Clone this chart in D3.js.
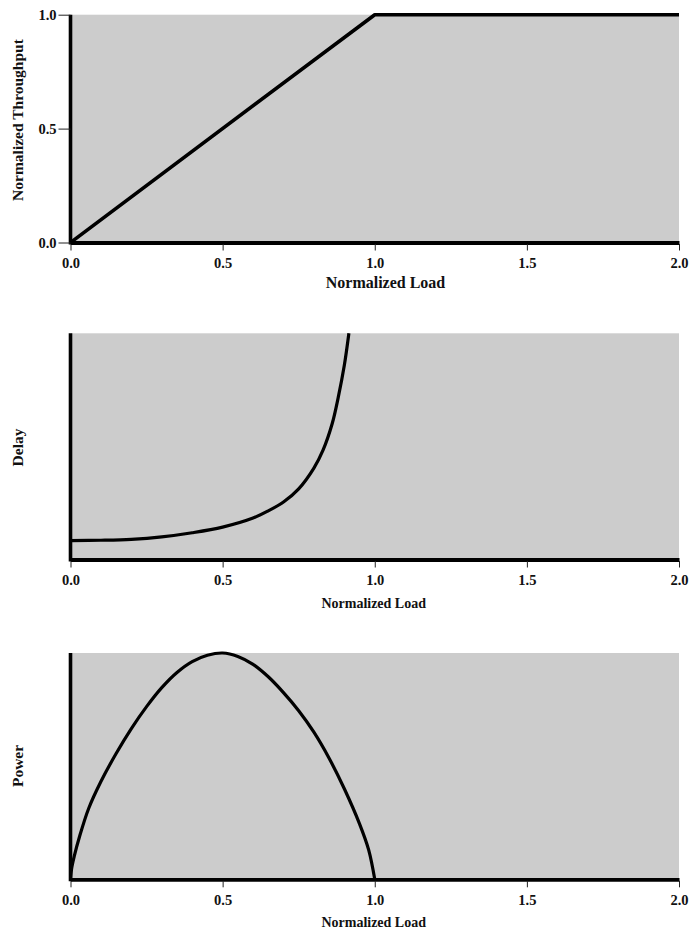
<!DOCTYPE html>
<html>
<head>
<meta charset="utf-8">
<script src="https://cdn.jsdelivr.net/npm/d3@7"></script>
<style>
  html, body { margin: 0; padding: 0; background: #ffffff; }
  svg { display: block; }
  text { font-family: "Liberation Serif", "Times New Roman", serif; font-weight: bold; fill: #111; }
</style>
</head>
<body>
<svg id="chart" width="692" height="934"></svg>
<script>
// ---- data ----
const loadTicks = [0, 0.5, 1.0, 1.5, 2.0];
const throughputTicks = [0, 0.5, 1.0];

const throughputLoad = [0, 1.0, 2.0];
const throughputValues = [0, 1.0, 1.0];

const delayLoad   = [0, 0.1, 0.2, 0.3, 0.4, 0.5, 0.6, 0.65, 0.7, 0.75, 0.8, 0.83, 0.86, 0.88, 0.9, 0.915];
const delayValues = [1.0, 1.02, 1.07, 1.20, 1.42, 1.72, 2.2, 2.58, 3.05, 3.75, 4.85, 5.8, 7.2, 8.6, 10.3, 12.0];

const powerLoad   = [0, 0.004, 0.012, 0.03, 0.06, 0.10, 0.15, 0.2, 0.25, 0.3, 0.35, 0.4, 0.45, 0.5,
                     0.55, 0.6, 0.65, 0.7, 0.75, 0.8, 0.85, 0.9, 0.95, 0.98, 1.0];
const powerValues = [0, 0.05, 0.10, 0.19, 0.314, 0.432, 0.556, 0.666, 0.763, 0.847, 0.914, 0.962, 0.99, 1.0,
                     0.985, 0.95, 0.895, 0.825, 0.745, 0.65, 0.535, 0.40, 0.245, 0.13, 0];

// ---- layout ----
const svg = d3.select("#chart");
const left = 70.5, right = 679;
const panels = [
  { top: 14.7, bottom: 242.5, yDomain: [0, 1], load: throughputLoad, vals: throughputValues,
    yTitle: "Normalized Throughput", yTitleY: 120, yTicks: throughputTicks,
    xTitleX: 385.5, xTitleY: 288.3, xTitleSize: 16, curve: d3.curveLinear, lw: 3.6 },
  { top: 333.3, bottom: 559.5, yDomain: [0, 12], load: delayLoad, vals: delayValues,
    yTitle: "Delay", yTitleY: 447.5, yTicks: null,
    xTitleX: 373.7, xTitleY: 608, xTitleSize: 14, curve: d3.curveCatmullRom.alpha(0.5), lw: 3.2 },
  { top: 653, bottom: 879.3, yDomain: [0, 1], load: powerLoad, vals: powerValues,
    yTitle: "Power", yTitleY: 766, yTicks: null,
    xTitleX: 373.7, xTitleY: 926.5, xTitleSize: 14, curve: d3.curveCatmullRom.alpha(0.5), lw: 3.2 }
];

panels.forEach((p, i) => {
  const x = d3.scaleLinear().domain([0, 2]).range([left, right]);
  const y = d3.scaleLinear().domain(p.yDomain).range([p.bottom, p.top]);
  const g = svg.append("g");

  // background
  g.append("rect")
    .attr("x", left).attr("y", p.top)
    .attr("width", right - left).attr("height", p.bottom - p.top)
    .attr("fill", "#cccccc");

  const clipId = "clip" + i;
  svg.append("clipPath").attr("id", clipId)
    .append("rect").attr("x", left).attr("y", p.top - 3)
    .attr("width", right - left + 3).attr("height", p.bottom - p.top + 3);

  // curve
  const line = d3.line()
    .x((d, k) => x(p.load[k]))
    .y((d, k) => y(p.vals[k]))
    .curve(p.curve);
  g.append("path")
    .datum(p.vals)
    .attr("d", line)
    .attr("fill", "none")
    .attr("stroke", "#000")
    .attr("stroke-width", p.lw)
    .attr("stroke-linejoin", "round")
    .attr("clip-path", "url(#" + clipId + ")");

  // x axis
  const xAxis = d3.axisBottom(x)
    .tickValues(loadTicks)
    .tickFormat(d3.format(".1f"))
    .tickSize(8).tickSizeOuter(0).tickPadding(7);
  const gx = g.append("g").attr("transform", `translate(0,${p.bottom})`).call(xAxis);
  gx.select(".domain").attr("stroke", "#000").attr("stroke-width", 3.8);
  gx.selectAll(".tick line").attr("stroke", "#222").attr("stroke-width", 1).attr("y1", 1.5);
  gx.selectAll(".tick text").style("font-size", "14.5px")
    .style("font-family", "'Liberation Serif', 'Times New Roman', serif")
    .style("font-weight", "bold").attr("fill", "#111");

  // y axis
  const yAxis = d3.axisLeft(y).tickSizeOuter(0);
  if (p.yTicks) {
    yAxis.tickValues(p.yTicks).tickFormat(d3.format(".1f")).tickSize(12).tickPadding(2);
  } else {
    yAxis.tickValues([]);
  }
  const gy = g.append("g").attr("transform", `translate(${left},0)`).call(yAxis);
  gy.select(".domain").attr("stroke", "#000").attr("stroke-width", 3.6)
    .attr("d", `M0,${p.top}V${p.bottom + 1.9}`);
  gy.selectAll(".tick line").attr("stroke", "#222").attr("stroke-width", 1);
  gy.selectAll(".tick text").style("font-size", "14.5px")
    .style("font-family", "'Liberation Serif', 'Times New Roman', serif")
    .style("font-weight", "bold").attr("fill", "#111");

  // x title
  g.append("text")
    .attr("x", p.xTitleX).attr("y", p.xTitleY)
    .attr("text-anchor", "middle")
    .style("font-size", p.xTitleSize + "px")
    .text("Normalized Load");

  // y title
  g.append("text")
    .attr("transform", `translate(23,${p.yTitleY}) rotate(-90)`)
    .attr("text-anchor", "middle")
    .style("font-size", "15.5px")
    .text(p.yTitle);
});
</script>
</body>
</html>
